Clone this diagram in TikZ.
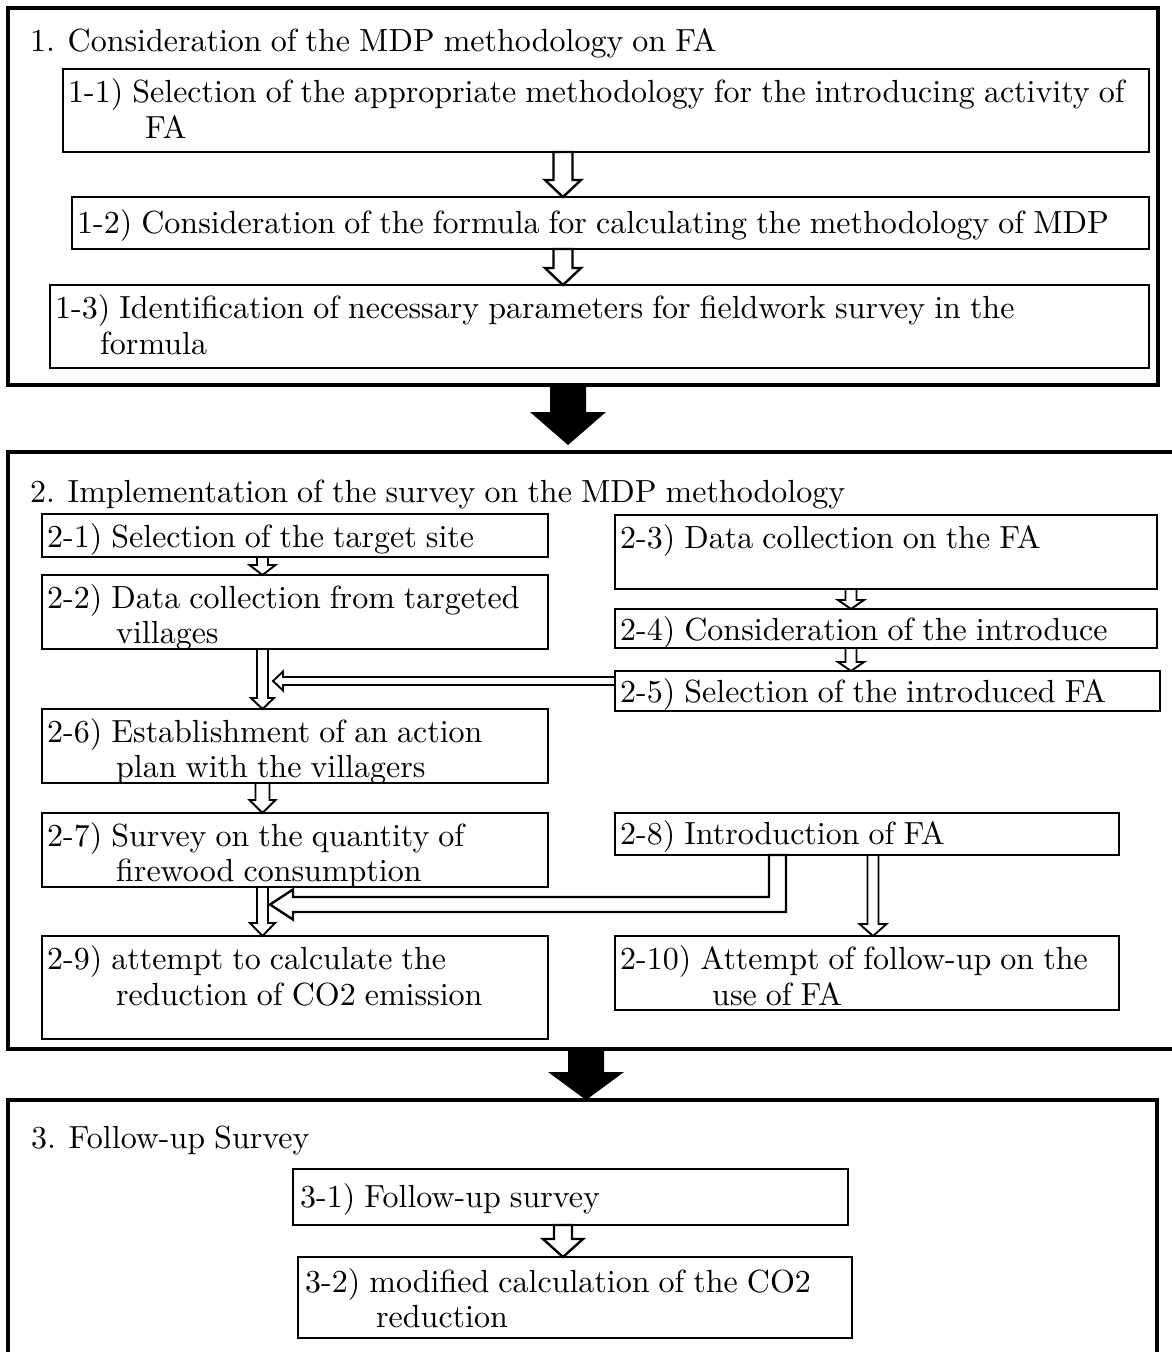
\documentclass[tikz,border=0pt]{standalone}
\usepackage{fontspec}
\setmainfont{lmroman10-regular.otf}[WordSpace=0.85]
\usetikzlibrary{calc}
\newcommand\blkdown[6][wblk]{%
  \path[#1] let \p1=#2, \p2=#3 in
    (\x1-#4pt,\y1) -- (\x1+#4pt,\y1) -- (\x1+#4pt,\y2+#6pt) -- (\x1+#5pt,\y2+#6pt)
    -- (\x1,\y2) -- (\x1-#5pt,\y2+#6pt) -- (\x1-#4pt,\y2+#6pt) -- cycle;}
\newcommand\blkleft[6][wblk]{%
  \path[#1] let \p1=#2, \p2=#3 in
    (\x1,\y1+#4pt) -- (\x2+#6pt,\y1+#4pt) -- (\x2+#6pt,\y1+#5pt) -- (\x2,\y1)
    -- (\x2+#6pt,\y1-#5pt) -- (\x2+#6pt,\y1-#4pt) -- (\x1,\y1-#4pt) -- cycle;}
\begin{document}
\begin{tikzpicture}[x=1pt,y=-1pt,
  obox/.style={draw, line width=4pt, inner sep=0pt, outer sep=0pt, anchor=north west},
  ibox/.style={draw, line width=1.4pt, inner sep=0pt, outer sep=0pt, anchor=north west},
  txt/.style={anchor=base west, inner sep=0pt, font=\fontsize{32}{36}\selectfont},
  wblk/.style={draw, fill=white, line width=2.4pt, line join=miter},
  wsm/.style={draw, fill=white, line width=1.9pt, line join=miter},
  bblk/.style={fill=black}]
\clip (0,0) rectangle (1172,1352);
\fill[white] (0,0) rectangle (1172,1352);

% ---------- section frames
\node[obox, minimum width=1150pt, minimum height=377pt] (s1) at (8,8) {};
\node[obox, minimum width=1190pt, minimum height=597pt] (s2) at (8,452) {};
\node[obox, minimum width=1149pt, minimum height=320pt] (s3) at (8,1100) {};

\node[txt] (h1) at (30,51) {1. Consideration of the MDP methodology on FA};
\node[txt] (h2) at (30,502) {2. Implementation of the survey on the MDP methodology};
\node[txt] (h3) at (31,1148) {3. Follow-up Survey};

% ---------- section 1
\node[ibox, minimum width=1086pt, minimum height=83pt] (b11) at (63,69) {};
\node[txt] (t11a) at (68,102) {1-1) Selection of the appropriate methodology for the introducing activity of};
\node[txt] (t11b) at (145,138) {FA};
\node[ibox, minimum width=1077pt, minimum height=52pt] (b12) at (72,197) {};
\node[txt] (t12a) at (77,233) {1-2) Consideration of the formula for calculating the methodology of MDP};
\node[ibox, minimum width=1099pt, minimum height=83pt] (b13) at (50,285) {};
\node[txt] (t13a) at (55,318) {1-3) Identification of necessary parameters for fieldwork survey in the};
\node[txt] (t13b) at (100,354) {formula};

% ---------- section 2
\node[ibox, minimum width=506pt, minimum height=43pt] (b21) at (42,514) {};
\node[txt] (t21a) at (47,547) {2-1) Selection of the target site};
\node[ibox, minimum width=506pt, minimum height=74pt] (b22) at (42,575) {};
\node[txt] (t22a) at (47,608) {2-2) Data collection from targeted};
\node[txt] (t22b) at (116,643) {villages};
\node[ibox, minimum width=542pt, minimum height=74pt] (b23) at (615,515) {};
\node[txt] (t23a) at (620,548) {2-3) Data collection on the FA};
\node[ibox, minimum width=542pt, minimum height=39pt] (b24) at (615,609) {};
\node[txt] (t24a) at (620,640) {2-4) Consideration of the introduce};
\node[ibox, minimum width=545pt, minimum height=40pt] (b25) at (615,671) {};
\node[txt] (t25a) at (620,702) {2-5) Selection of the introduced FA};
\node[ibox, minimum width=506pt, minimum height=74pt] (b26) at (42,709) {};
\node[txt] (t26a) at (47,742) {2-6) Establishment of an action};
\node[txt] (t26b) at (116,777) {plan with the villagers};
\node[ibox, minimum width=506pt, minimum height=74pt] (b27) at (42,813) {};
\node[txt] (t27a) at (47,846) {2-7) Survey on the quantity of};
\node[txt] (t27b) at (116,881) {firewood consumption};
\node[ibox, minimum width=504pt, minimum height=42pt] (b28) at (615,813) {};
\node[txt] (t28a) at (620,844) {2-8) Introduction of FA};
\node[ibox, minimum width=506pt, minimum height=103pt] (b29) at (42,936) {};
\node[txt] (t29a) at (47,969) {2-9) attempt to calculate the};
\node[txt] (t29b) at (116,1005) {reduction of CO2 emission};
\node[ibox, minimum width=504pt, minimum height=74pt] (b210) at (615,936) {};
\node[txt] (t210a) at (620,969) {2-10) Attempt of follow-up on the};
\node[txt] (t210b) at (712,1005) {use of FA};

% ---------- section 3
\node[ibox, minimum width=555pt, minimum height=56pt] (b31) at (293,1169) {};
\node[txt] (t31a) at (300,1207) {3-1) Follow-up survey};
\node[ibox, minimum width=554pt, minimum height=81pt] (b32) at (298,1257) {};
\node[txt] (t32a) at (305,1292) {3-2) modified calculation of the CO2};
\node[txt] (t32b) at (376,1327) {reduction};

% ---------- arrow positions
\coordinate (xa) at (563,0);
\coordinate (xb1) at (568,0);
\coordinate (tip1) at (568,445);
\coordinate (xb2) at (586,0);
\coordinate (xl) at (262.5,0);
\coordinate (xr) at (851,0);
\coordinate (xr2) at (873,0);
\coordinate (hy) at (0,681);
\coordinate (htip) at (273,681);
\coordinate (bx) at (777.5,0);
\coordinate (btip) at (270,904.5);

% section 1 arrows
\blkdown{(b11.south -| xa)}{(b12.north -| xa)}{9.5}{18}{17}
\blkdown{(b12.south -| xa)}{(b13.north -| xa)}{9.5}{18}{17}
% big black arrows
\blkdown[bblk]{(s1.south -| xb1)}{(tip1)}{18}{38}{33}
\blkdown[bblk]{(s2.south -| xb2)}{(s3.north -| xb2)}{18}{38}{28}
% section 2 left column
\blkdown[wsm]{(b21.south -| xl)}{(b22.north -| xl)}{5.5}{13}{10}
\blkdown[wsm]{(b22.south -| xl)}{(b26.north -| xl)}{5.5}{11.5}{11}
\blkdown[wsm]{(b26.south -| xl)}{(b27.north -| xl)}{7}{13}{13}
\blkdown[wsm]{(b27.south -| xl)}{(b29.north -| xl)}{5.5}{12.5}{13}
% section 2 right column
\blkdown[wsm]{(b23.south -| xr)}{(b24.north -| xr)}{5.5}{13}{9}
\blkdown[wsm]{(b24.south -| xr)}{(b25.north -| xr)}{5.5}{13}{9}
\blkdown[wsm]{(b28.south -| xr2)}{(b210.north -| xr2)}{5.5}{13.5}{12}
% 2-5 to left column
\blkleft[wsm]{(b25.west |- hy)}{(htip)}{4}{9.5}{10}
% 2-8 bent arrow to 2-7/2-9 arrow
\path[wblk] let \p1=(b28.south -| bx), \p2=(btip) in
  (\x1-8.5pt,\y1) -- (\x1+8.5pt,\y1) -- (\x1+8.5pt,\y2-7.5pt) -- (\x2+23pt,\y2-7.5pt)
  -- (\x2+23pt,\y2-15pt) -- (\x2,\y2) -- (\x2+23pt,\y2+15pt) -- (\x2+23pt,\y2+7.5pt)
  -- (\x1-8.5pt,\y2+7.5pt) -- cycle;
% section 3
\blkdown{(b31.south -| xa)}{(b32.north -| xa)}{9}{20}{18}
\end{tikzpicture}
\end{document}
